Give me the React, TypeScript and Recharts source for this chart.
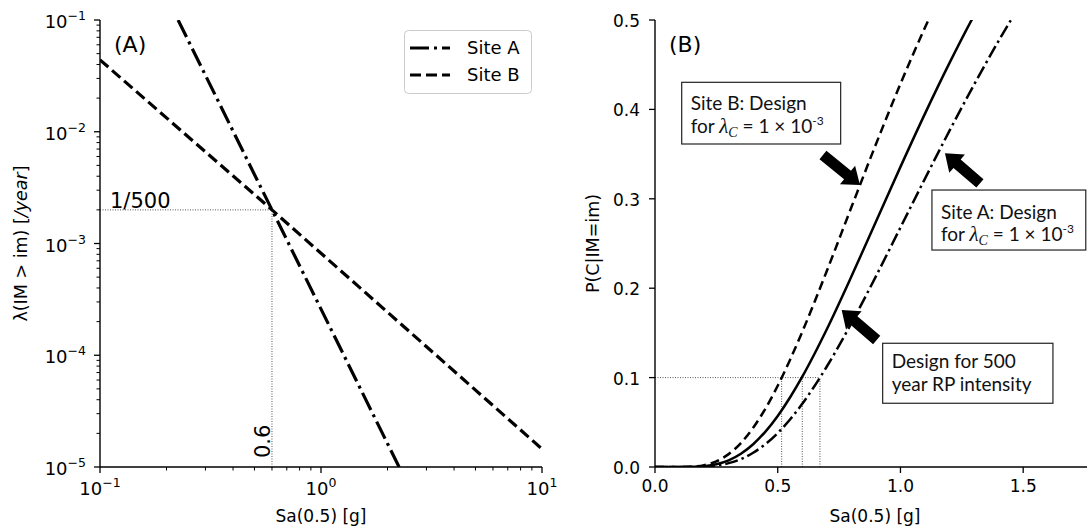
import React from 'react';
import { LineChart, Line, XAxis, YAxis, ReferenceLine, Legend } from 'recharts';

const SANS = 'DejaVu Sans';
const NOTE = 'Lato';
const SERIF = 'Liberation Serif';

// ---------- Panel (A): hazard curves ----------
const siteAHazardSa = [0.2256, 0.6, 2.256];
const siteAHazardRate = [0.1, 0.002, 0.00001];
const siteBHazardSa = [0.1, 0.6, 10];
const siteBHazardRate = [0.044, 0.002, 0.0000145];
const rp500Rate = 0.002;
const rp500Sa = 0.6;
const hazardXTicks = [0.1, 0.2, 0.3, 0.4, 0.5, 0.6, 0.7, 0.8, 0.9, 1, 2, 3, 4, 5, 6, 7, 8, 9, 10];
const hazardYTicks = [
  1e-5, 2e-5, 3e-5, 4e-5, 5e-5, 6e-5, 7e-5, 8e-5, 9e-5,
  1e-4, 2e-4, 3e-4, 4e-4, 5e-4, 6e-4, 7e-4, 8e-4, 9e-4,
  1e-3, 2e-3, 3e-3, 4e-3, 5e-3, 6e-3, 7e-3, 8e-3, 9e-3,
  1e-2, 2e-2, 3e-2, 4e-2, 5e-2, 6e-2, 7e-2, 8e-2, 9e-2,
  1e-1,
];
const hazardSeriesNames = ['Site A', 'Site B'];

// ---------- Panel (B): fragility curves ----------
const fragSa = [0, 0.05, 0.1, 0.15, 0.2, 0.25, 0.3, 0.35, 0.4, 0.45, 0.5, 0.55, 0.6, 0.65, 0.7, 0.8, 0.9, 1.0, 1.1, 1.2, 1.3, 1.4, 1.5];
const fragSiteB = [0, 0, 0.00003, 0.0004, 0.0021, 0.0064, 0.0144, 0.0268, 0.0439, 0.0654, 0.0909, 0.1198, 0.1512, 0.1846, 0.2193, 0.2905, 0.361, 0.4286, 0.4915, 0.549, 0.6015, 0.648, 0.69];
const fragRp500 = [0, 0, 0.00001, 0.00017, 0.00095, 0.0031, 0.0075, 0.0149, 0.0255, 0.0396, 0.0571, 0.0777, 0.101, 0.1267, 0.1541, 0.213, 0.2743, 0.3357, 0.3953, 0.452, 0.5052, 0.554, 0.599];
const fragSiteA = [0, 0, 0.000004, 0.00008, 0.00048, 0.0017, 0.0043, 0.0089, 0.0159, 0.0256, 0.038, 0.0531, 0.0707, 0.0906, 0.1124, 0.1608, 0.2133, 0.2679, 0.3226, 0.3762, 0.4278, 0.4767, 0.5226];
const designSa = [0.516, 0.6, 0.672];
const targetP = 0.1;
const fragXTicks = [0, 0.5, 1, 1.5];
const fragYTicks = [0, 0.1, 0.2, 0.3, 0.4, 0.5];

const siteAHazard = siteAHazardSa.map((x, i) => ({ x, y: siteAHazardRate[i] }));
const siteBHazard = siteBHazardSa.map((x, i) => ({ x, y: siteBHazardRate[i] }));
const fragTable = fragSa.map((x, i) => ({ x, b: fragSiteB[i], rp: fragRp500[i], a: fragSiteA[i] }));

const TS = 6;
const TM = 7;
const AXIS = { stroke: '#000', strokeWidth: 1.4 };

const isDecade = (v: number) => {
  const l = Math.log10(v);
  return Math.abs(l - Math.round(l)) < 1e-6;
};
const expText = (v: number) => {
  const e = Math.round(Math.log10(v));
  return e < 0 ? '\u2212' + -e : String(e);
};

const LogXTick = (p: any) => {
  const { x, y, payload } = p;
  const v = payload.value;
  const ay = y - TM - TS;
  const major = isDecade(v);
  return (
    <g>
      <line x1={x} x2={x} y1={ay} y2={ay + (major ? 6 : 3.5)} stroke="#000" strokeWidth={major ? 1.3 : 1} />
      {major && (
        <text x={x} y={ay + 28} textAnchor="middle" fontFamily={SANS} fontSize={18} fill="#000">
          10<tspan dy={-8} fontSize={12.5}>{expText(v)}</tspan>
        </text>
      )}
    </g>
  );
};

const LogYTick = (p: any) => {
  const { x, y, payload } = p;
  const v = payload.value;
  const ax = x + TM + TS;
  const major = isDecade(v);
  return (
    <g>
      <line x1={ax - (major ? 6 : 3.5)} x2={ax} y1={y} y2={y} stroke="#000" strokeWidth={major ? 1.3 : 1} />
      {major && (
        <text x={ax - 14} y={y + 8} textAnchor="end" fontFamily={SANS} fontSize={18} fill="#000">
          10<tspan dy={-8} fontSize={12.5}>{expText(v)}</tspan>
        </text>
      )}
    </g>
  );
};

const LinXTick = (p: any) => {
  const { x, y, payload } = p;
  const ay = y - TM - TS;
  return (
    <g>
      <line x1={x} x2={x} y1={ay} y2={ay + 6} stroke="#000" strokeWidth={1.3} />
      <text x={x} y={ay + 25} textAnchor="middle" fontFamily={SANS} fontSize={17} fill="#000">
        {Number(payload.value).toFixed(1)}
      </text>
    </g>
  );
};

const LinYTick = (p: any) => {
  const { x, y, payload } = p;
  const ax = x + TM + TS;
  return (
    <g>
      <line x1={ax - 6} x2={ax} y1={y} y2={y} stroke="#000" strokeWidth={1.3} />
      <text x={ax - 15} y={y + 7} textAnchor="end" fontFamily={SANS} fontSize={17} fill="#000">
        {Number(payload.value).toFixed(1)}
      </text>
    </g>
  );
};

const xTitle = (dx: number) => (props: any) => {
  const vb = props.viewBox || props;
  return (
    <text x={vb.x + vb.width / 2 + dx} y={vb.y + 55} textAnchor="middle" fontFamily={SANS} fontSize={17} fill="#000">
      Sa(0.5) [g]
    </text>
  );
};

const yTitle = (bx: number, content: React.ReactNode) => (props: any) => {
  const vb = props.viewBox || props;
  const cy = vb.y + vb.height / 2;
  const cx = vb.x + bx;
  return (
    <text x={cx} y={cy} transform={`rotate(-90 ${cx} ${cy})`} textAnchor="middle" fontFamily={SANS} fontSize={17.5} fill="#000">
      {content}
    </text>
  );
};

const Arrow = (p: any) => {
  const { x1, y1, x2, y2 } = p;
  const dx = x2 - x1;
  const dy = y2 - y1;
  const L = Math.hypot(dx, dy) || 1;
  const ux = dx / L;
  const uy = dy / L;
  const px = -uy;
  const py = ux;
  const hl = 16;
  const hw = 12;
  const sw = 5.5;
  const bx = x2 - ux * hl;
  const by = y2 - uy * hl;
  const pts = [
    [x1 + px * sw, y1 + py * sw],
    [bx + px * sw, by + py * sw],
    [bx + px * hw, by + py * hw],
    [x2, y2],
    [bx - px * hw, by - py * hw],
    [bx - px * sw, by - py * sw],
    [x1 - px * sw, y1 - py * sw],
  ]
    .map((q) => q.join(','))
    .join(' ');
  return <polygon points={pts} fill="#000" />;
};

const lambdaLine = (
  <>
    for <tspan fontFamily={SERIF} fontStyle="italic" fontSize={21}>λ</tspan>
    <tspan fontFamily={SERIF} fontStyle="italic" fontSize={14} dy={4}>C</tspan>
    <tspan dy={-4}> = 1 × 10</tspan>
    <tspan fontSize={12} dy={-8}>-3</tspan>
  </>
);

const noteBox = (l1: React.ReactNode, l2: React.ReactNode, o1: number, o2: number) => (p: any) => {
  const { x1, y1, x2, y2 } = p;
  const x = Math.min(x1, x2);
  const y = Math.min(y1, y2);
  const w = Math.abs(x2 - x1);
  const h = Math.abs(y2 - y1);
  return (
    <g>
      <rect x={x} y={y} width={w} height={h} fill="#fff" stroke="#222" strokeWidth={1.2} />
      <text x={x + 9} y={y + o1} fontFamily={NOTE} fontSize={19} fill="#111">{l1}</text>
      <text x={x + 9} y={y + o2} fontFamily={NOTE} fontSize={19} fill="#111">{l2}</text>
    </g>
  );
};

const panelLetter = (txt: string) => (p: any) => (
  <text x={p.x1 + 14} y={p.y1 + 32} fontFamily={SANS} fontSize={22} fill="#000">{txt}</text>
);

const label500 = (p: any) => (
  <text x={p.x1 + 10} y={p.y1 - 2} fontFamily={SANS} fontSize={21} fill="#000">1/500</text>
);

const label06 = (p: any) => {
  const x = p.x1 - 2;
  const y = p.y1 - 9;
  return (
    <text x={x} y={y} transform={`rotate(-90 ${x} ${y})`} fontFamily={SANS} fontSize={21} fill="#000">0.6</text>
  );
};

const DOT = { stroke: '#555', strokeWidth: 1, strokeDasharray: '1 1.5' };

const DASHDOT_A = '19 5 3 5';
const DASHED_A = '11 5';

const HazardLegend = () => (
  <svg width={128} height={64} style={{ display: 'block' }}>
    <rect x={0.5} y={0.5} width={127} height={63} rx={4} fill="#fff" stroke="#ccc" strokeWidth={1} />
    <line x1={6} x2={46} y1={18} y2={18} stroke="#000" strokeWidth={3} strokeDasharray={DASHDOT_A} />
    <line x1={6} x2={46} y1={45} y2={45} stroke="#000" strokeWidth={3} strokeDasharray={DASHED_A} />
    <text x={63} y={24} fontFamily={SANS} fontSize={18} fill="#000">{hazardSeriesNames[0]}</text>
    <text x={63} y={51} fontFamily={SANS} fontSize={18} fill="#000">{hazardSeriesNames[1]}</text>
  </svg>
);

export default function App() {
  return (
    <div style={{ position: 'absolute', left: 0, top: 0, width: 1087, height: 529, overflow: 'hidden', background: '#fff' }}>
      <div style={{ position: 'absolute', left: 0, top: 0 }}>
        <LineChart width={572} height={529} margin={{ top: 20, right: 30, bottom: 0, left: 0 }}>
          <XAxis
            xAxisId={0}
            type="number"
            dataKey="x"
            scale="log"
            domain={[0.1, 10]}
            allowDataOverflow
            ticks={hazardXTicks}
            interval={0}
            tick={(p: any) => <LogXTick {...p} />}
            tickLine={false}
            tickSize={TS}
            tickMargin={TM}
            height={62}
            axisLine={AXIS}
            label={xTitle(0)}
          />
          <XAxis xAxisId="top" orientation="top" type="number" dataKey="x" scale="log" domain={[0.1, 10]} allowDataOverflow tick={false} tickLine={false} height={0} axisLine={AXIS} />
          <YAxis
            yAxisId={0}
            type="number"
            scale="log"
            domain={[1e-5, 0.1]}
            allowDataOverflow
            ticks={hazardYTicks}
            interval={0}
            tick={(p: any) => <LogYTick {...p} />}
            tickLine={false}
            tickSize={TS}
            tickMargin={TM}
            width={100}
            axisLine={AXIS}
            label={yTitle(27, (
              <>
                λ(IM {'>'} im) [<tspan fontStyle="italic">/year</tspan>]
              </>
            ))}
          />
          <YAxis yAxisId="right" orientation="right" type="number" scale="log" domain={[1e-5, 0.1]} allowDataOverflow tick={false} tickLine={false} width={0} axisLine={AXIS} />
          <ReferenceLine segment={[{ x: 0.1, y: rp500Rate }, { x: rp500Sa, y: rp500Rate }]} {...DOT} ifOverflow="visible" />
          <ReferenceLine segment={[{ x: rp500Sa, y: 1e-5 }, { x: rp500Sa, y: rp500Rate }]} {...DOT} ifOverflow="visible" />
          <ReferenceLine segment={[{ x: 0.1, y: rp500Rate }, { x: 0.1, y: rp500Rate }]} shape={label500} ifOverflow="visible" />
          <ReferenceLine segment={[{ x: rp500Sa, y: 1e-5 }, { x: rp500Sa, y: 1e-5 }]} shape={label06} ifOverflow="visible" />
          <ReferenceLine segment={[{ x: 0.1, y: 0.1 }, { x: 0.1, y: 0.1 }]} shape={panelLetter('(A)')} ifOverflow="visible" />
          <Line data={siteAHazard} dataKey="y" name={hazardSeriesNames[0]} type="linear" stroke="#000" strokeWidth={3.2} strokeDasharray={DASHDOT_A} dot={false} isAnimationActive={false} />
          <Line data={siteBHazard} dataKey="y" name={hazardSeriesNames[1]} type="linear" stroke="#000" strokeWidth={3.2} strokeDasharray={DASHED_A} dot={false} isAnimationActive={false} />
          <Legend
            layout="vertical"
            align="center"
            verticalAlign="middle"
            wrapperStyle={{ left: 404, top: 30, width: 128, height: 64 }}
            content={() => <HazardLegend />}
          />
        </LineChart>
      </div>
      <div style={{ position: 'absolute', left: 545, top: 0 }}>
        <LineChart width={542} height={529} data={fragTable} margin={{ top: 20, right: 0, bottom: 0, left: 0 }}>
          <XAxis
            xAxisId={0}
            type="number"
            dataKey="x"
            domain={[0, 1.76]}
            allowDataOverflow
            ticks={fragXTicks}
            interval={0}
            tick={(p: any) => <LinXTick {...p} />}
            tickLine={false}
            tickSize={TS}
            tickMargin={TM}
            height={62}
            axisLine={AXIS}
            label={xTitle(4)}
          />
          <XAxis xAxisId="top" orientation="top" type="number" dataKey="x" domain={[0, 1.76]} allowDataOverflow tick={false} tickLine={false} height={0} axisLine={AXIS} />
          <YAxis
            yAxisId={0}
            type="number"
            domain={[0, 0.5]}
            allowDataOverflow
            ticks={fragYTicks}
            interval={0}
            tick={(p: any) => <LinYTick {...p} />}
            tickLine={false}
            tickSize={TS}
            tickMargin={TM}
            width={110}
            axisLine={AXIS}
            label={yTitle(54, 'P(C|IM=im)')}
          />
          <ReferenceLine segment={[{ x: 0, y: targetP }, { x: designSa[2], y: targetP }]} {...DOT} ifOverflow="visible" />
          {designSa.map((d) => (
            <ReferenceLine key={d} segment={[{ x: d, y: 0 }, { x: d, y: targetP }]} {...DOT} ifOverflow="visible" />
          ))}
          <Line dataKey="b" type="monotone" stroke="#000" strokeWidth={2.5} strokeDasharray="9 5" dot={false} isAnimationActive={false} />
          <Line dataKey="rp" type="monotone" stroke="#000" strokeWidth={2.5} dot={false} isAnimationActive={false} />
          <Line dataKey="a" type="monotone" stroke="#000" strokeWidth={2.5} strokeDasharray="13 4 2.5 4" dot={false} isAnimationActive={false} />
          <ReferenceLine segment={[{ x: 0, y: 0.5 }, { x: 0, y: 0.5 }]} shape={panelLetter('(B)')} ifOverflow="visible" />
          <ReferenceLine segment={[{ x: 0.1088, y: 0.4303 }, { x: 0.7564, y: 0.3613 }]} shape={noteBox('Site B: Design', lambdaLine, 27.5, 50.5)} ifOverflow="visible" />
          <ReferenceLine segment={[{ x: 1.1283, y: 0.3098 }, { x: 1.755, y: 0.2427 }]} shape={noteBox('Site A: Design', lambdaLine, 29, 51)} ifOverflow="visible" />
          <ReferenceLine segment={[{ x: 0.9275, y: 0.1384 }, { x: 1.6212, y: 0.0713 }]} shape={noteBox('Design for 500', 'year RP intensity', 25, 48)} ifOverflow="visible" />
          <ReferenceLine segment={[{ x: 0.6843, y: 0.349 }, { x: 0.835, y: 0.3154 }]} shape={Arrow} ifOverflow="visible" />
          <ReferenceLine segment={[{ x: 1.3238, y: 0.3173 }, { x: 1.1813, y: 0.3509 }]} shape={Arrow} ifOverflow="visible" />
          <ReferenceLine segment={[{ x: 0.9031, y: 0.1421 }, { x: 0.7605, y: 0.1756 }]} shape={Arrow} ifOverflow="visible" />
        </LineChart>
      </div>
    </div>
  );
}
